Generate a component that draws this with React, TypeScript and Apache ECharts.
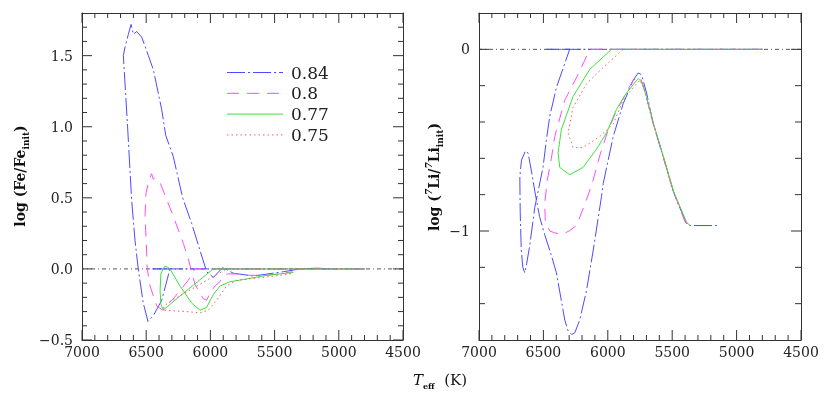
import React, { useEffect, useRef } from 'react';
import * as echarts from 'echarts';

const MASSES = ['0.84', '0.8', '0.77', '0.75'];
const COLORS = ['#4b4bff', '#ff4bff', '#3ee03e', '#ff5a5a'];
const DASHES: any[] = [[18, 3, 2, 3], [12, 8], 'solid', [1.5, 3]];

// log(Fe/Fe_init) vs Teff
const FE_084 = [[4800, 0], [6450, 0], [6315, 0], [6379, -0.22], [6445, -0.33], [6486, -0.37], [6523, -0.24], [6562, 0], [6587, 0.2], [6613, 0.48], [6645, 1.0], [6678, 1.5], [6665, 1.56], [6639, 1.65], [6618, 1.72], [6600, 1.65], [6574, 1.67], [6535, 1.63], [6483, 1.5], [6444, 1.4], [6379, 1.12], [6348, 0.94], [6289, 0.79], [6216, 0.5], [6146, 0.32], [6081, 0.13], [6029, -0.02], [5977, -0.06], [5904, 0.01], [5822, -0.03], [5666, -0.05], [5432, -0.02], [5302, 0], [5172, 0.005], [5042, 0]];
const FE_080 = [[4800, 0], [6120, 0], [6172, -0.08], [6289, -0.21], [6372, -0.29], [6418, -0.26], [6470, -0.12], [6492, 0], [6500, 0.2], [6509, 0.37], [6502, 0.53], [6480, 0.62], [6458, 0.67], [6445, 0.63], [6432, 0.64], [6410, 0.62], [6393, 0.61], [6367, 0.55], [6289, 0.37], [6211, 0.18], [6172, 0.07], [6120, -0.11], [6081, -0.17], [6055, -0.21], [6029, -0.22], [6003, -0.17], [5964, -0.12], [5925, -0.09], [5899, -0.05], [5870, -0.035], [5795, -0.035], [5700, -0.045], [5560, -0.045], [5430, -0.03], [5360, -0.02]];
const FE_077 = [[4800, 0], [5978, 0], [6100, -0.09], [6250, -0.2], [6367, -0.29], [6385, -0.25], [6392, -0.15], [6385, -0.03], [6354, 0.02], [6330, 0.01], [6315, 0], [6237, -0.12], [6146, -0.24], [6081, -0.29], [6029, -0.27], [5977, -0.18], [5925, -0.12], [5847, -0.09], [5744, -0.075], [5562, -0.045], [5354, -0.025]];
const FE_075 = [[4800, 0], [5874, 0], [6315, -0.23], [6360, -0.26], [6367, -0.29], [6289, -0.295], [6185, -0.3], [6081, -0.31], [6016, -0.29], [5951, -0.22], [5874, -0.12], [5795, -0.08], [5650, -0.065], [5500, -0.05], [5354, -0.03]];

// log(7Li/7Li_init) vs Teff
const LI_084 = [[4800, 0], [6477, 0], [6296, 0], [6399, -0.21], [6451, -0.37], [6477, -0.5], [6503, -0.65], [6567, -0.87], [6606, -1.08], [6630, -1.18], [6645, -1.23], [6660, -1.2], [6672, -1.1], [6680, -0.9], [6683, -0.7], [6670, -0.61], [6640, -0.56], [6619, -0.57], [6593, -0.67], [6567, -0.78], [6530, -0.92], [6490, -1.02], [6440, -1.13], [6399, -1.23], [6334, -1.49], [6308, -1.55], [6280, -1.57], [6256, -1.56], [6218, -1.49], [6166, -1.33], [6114, -1.11], [6049, -0.81], [6036, -0.74], [5958, -0.48], [5881, -0.3], [5803, -0.17], [5764, -0.13], [5738, -0.14], [5699, -0.24], [5647, -0.41], [5570, -0.59], [5492, -0.78], [5466, -0.83], [5388, -0.96], [5363, -0.97], [5143, -0.97]];
const LI_080 = [[4800, 0], [6140, 0], [6218, -0.12], [6334, -0.28], [6412, -0.48], [6438, -0.6], [6470, -0.72], [6490, -0.85], [6485, -0.95], [6450, -1.0], [6412, -1.01], [6360, -1.02], [6300, -1.0], [6243, -0.97], [6166, -0.83], [6114, -0.72], [6060, -0.58], [6000, -0.45], [5940, -0.35], [5881, -0.27], [5803, -0.17], [5751, -0.15], [5720, -0.21], [5647, -0.41], [5570, -0.59], [5492, -0.78], [5400, -0.95], [5375, -0.97]];
const LI_077 = [[4800, 0], [5971, 0], [6140, -0.11], [6270, -0.26], [6360, -0.44], [6386, -0.57], [6373, -0.65], [6296, -0.69], [6192, -0.65], [6088, -0.55], [6010, -0.46], [5932, -0.33], [5855, -0.24], [5764, -0.16], [5738, -0.18], [5699, -0.26], [5645, -0.41], [5568, -0.59], [5490, -0.78], [5390, -0.95], [5363, -0.97]];
const LI_075 = [[4800, 0], [5881, 0], [6036, -0.1], [6166, -0.19], [6270, -0.32], [6308, -0.46], [6270, -0.54], [6192, -0.54], [6062, -0.48], [5958, -0.41], [5881, -0.28], [5803, -0.21], [5751, -0.17], [5720, -0.21], [5660, -0.38], [5580, -0.57], [5500, -0.77], [5400, -0.94], [5370, -0.97]];

const REF_LINE = [[4500, 0], [7000, 0]];

// axis ranges and tick values
const X_MIN = 4500;
const X_MAX = 7000;
const FE_MIN = -0.5;
const FE_MAX = 1.8;
const LI_MIN = -1.6;
const LI_MAX = 0.2;
const X_MAJOR = [4500, 5000, 5500, 6000, 6500, 7000];
const X_MINOR = [4600, 4700, 4800, 4900, 5100, 5200, 5300, 5400, 5600, 5700, 5800, 5900, 6100, 6200, 6300, 6400, 6600, 6700, 6800, 6900];
const FE_MAJOR = [-0.5, 0, 0.5, 1, 1.5];
const FE_MINOR = [-0.4, -0.3, -0.2, -0.1, 0.1, 0.2, 0.3, 0.4, 0.6, 0.7, 0.8, 0.9, 1.1, 1.2, 1.3, 1.4, 1.6, 1.7];
const LI_MAJOR = [-1, 0];
const LI_MINOR = [-1.4, -1.2, -0.8, -0.6, -0.4, -0.2];

const FE_SERIES = [FE_084, FE_080, FE_077, FE_075];
const LI_SERIES = [LI_084, LI_080, LI_077, LI_075];

const SERIF = 'DejaVu Serif';
const AXIS_COLOR = '#333';
const GRID_W = [321, 322];
const GRID_H = 327;

function fmtNum(v: number, digits: number) {
  const s = Math.abs(v).toFixed(digits);
  return v < 0 ? '\u2212' + s : s;
}

// tick marks as short segments (in data units), separated by gaps
function xTickData(values: number[], lenPx: number, yMin: number, yMax: number) {
  const d = (lenPx / GRID_H) * (yMax - yMin);
  const out: any[] = [];
  values.forEach((v) => {
    out.push([v, yMin], [v, yMin + d], ['-', '-'], [v, yMax], [v, yMax - d], ['-', '-']);
  });
  return out;
}
function yTickData(values: number[], lenPx: number, gridW: number) {
  const d = (lenPx / gridW) * (X_MAX - X_MIN);
  const out: any[] = [];
  values.forEach((v) => {
    out.push([X_MAX, v], [X_MAX - d, v], ['-', '-'], [X_MIN, v], [X_MIN + d, v], ['-', '-']);
  });
  return out;
}

function tickSeries(xAxisIndex: number, yAxisIndex: number, data: any[]) {
  return {
    type: 'line',
    xAxisIndex,
    yAxisIndex,
    data,
    symbol: 'none',
    silent: true,
    clip: false,
    connectNulls: false,
    z: 5,
    lineStyle: { color: AXIS_COLOR, width: 1, type: 'solid' },
  };
}

export default function App() {
  const ref = useRef<HTMLDivElement>(null);
  useEffect(() => {
    if (!ref.current) return;
    const chart = echarts.init(ref.current, undefined, { renderer: 'svg' });

    const xa = (grid: number, pos: 'top' | 'bottom') => ({
      gridIndex: grid,
      type: 'value',
      min: X_MIN,
      max: X_MAX,
      interval: 500,
      inverse: true,
      position: pos,
      axisLine: { show: true, onZero: false, lineStyle: { color: AXIS_COLOR, width: 1 } },
      axisTick: { show: false },
      minorTick: { show: false },
      axisLabel: {
        show: pos === 'bottom',
        formatter: (v: number) => String(Math.round(v)),
        margin: 5,
        fontFamily: SERIF,
        fontSize: 14,
        color: '#222',
      },
      splitLine: { show: false },
      minorSplitLine: { show: false },
    });

    const ya = (grid: number, pos: 'left' | 'right', min: number, max: number, labels: number[] | null, digits: number) => ({
      gridIndex: grid,
      type: 'value',
      min,
      max,
      position: pos,
      axisLine: { show: true, onZero: false, lineStyle: { color: AXIS_COLOR, width: 1 } },
      axisTick: { show: false },
      axisLabel: labels
        ? {
            show: true,
            customValues: labels,
            formatter: (v: number) => fmtNum(v, digits),
            margin: 9,
            fontFamily: SERIF,
            fontSize: 14,
            color: '#222',
          }
        : { show: false },
      splitLine: { show: false },
    });

    const series: any[] = [];
    // tick marks on all four sides of both panels
    series.push(tickSeries(0, 0, xTickData(X_MAJOR, 10, FE_MIN, FE_MAX)));
    series.push(tickSeries(0, 0, xTickData(X_MINOR, 5, FE_MIN, FE_MAX)));
    series.push(tickSeries(0, 0, yTickData(FE_MAJOR, 10, GRID_W[0])));
    series.push(tickSeries(0, 0, yTickData(FE_MINOR, 5, GRID_W[0])));
    series.push(tickSeries(2, 2, xTickData(X_MAJOR, 10, LI_MIN, LI_MAX)));
    series.push(tickSeries(2, 2, xTickData(X_MINOR, 5, LI_MIN, LI_MAX)));
    series.push(tickSeries(2, 2, yTickData(LI_MAJOR, 10, GRID_W[1])));
    series.push(tickSeries(2, 2, yTickData(LI_MINOR, 6, GRID_W[1])));

    series.push({
      type: 'line', xAxisIndex: 0, yAxisIndex: 0, data: REF_LINE, symbol: 'none', silent: true, z: 1,
      lineStyle: { color: '#555', width: 1, type: [4, 3, 1, 3] },
    });
    series.push({
      type: 'line', xAxisIndex: 2, yAxisIndex: 2, data: REF_LINE, symbol: 'none', silent: true, z: 1,
      lineStyle: { color: '#555', width: 1, type: [4, 3, 1, 3] },
    });
    MASSES.forEach((m, i) => {
      series.push({
        name: m, type: 'line', xAxisIndex: 0, yAxisIndex: 0, data: FE_SERIES[i], symbol: 'none', z: 3,
        lineStyle: { color: COLORS[i], width: 1, type: DASHES[i] }, itemStyle: { color: COLORS[i] },
      });
      series.push({
        name: m, type: 'line', xAxisIndex: 2, yAxisIndex: 2, data: LI_SERIES[i], symbol: 'none', z: 3,
        lineStyle: { color: COLORS[i], width: 1, type: DASHES[i] }, itemStyle: { color: COLORS[i] },
      });
    });

    const legendItems: any[] = [];
    MASSES.forEach((m, i) => {
      const y = 72.5 + i * 20.8;
      legendItems.push({
        type: 'line',
        shape: { x1: 227, y1: y, x2: 283, y2: y },
        style: { stroke: COLORS[i], lineWidth: 1, lineDash: DASHES[i] === 'solid' ? null : DASHES[i] },
      });
      legendItems.push({
        type: 'text',
        x: 291,
        y,
        style: { text: m, fontFamily: SERIF, fontSize: 17, fill: '#222', align: 'left', verticalAlign: 'middle' },
      });
    });

    chart.setOption({
      animation: false,
      grid: [
        { left: 82, top: 13, width: GRID_W[0], height: GRID_H },
        { left: 479, top: 13, width: GRID_W[1], height: GRID_H },
      ],
      xAxis: [xa(0, 'bottom'), xa(0, 'top'), xa(1, 'bottom'), xa(1, 'top')],
      yAxis: [
        ya(0, 'left', FE_MIN, FE_MAX, FE_MAJOR, 1),
        ya(0, 'right', FE_MIN, FE_MAX, null, 1),
        ya(1, 'left', LI_MIN, LI_MAX, LI_MAJOR, 0),
        ya(1, 'right', LI_MIN, LI_MAX, null, 0),
      ],
      graphic: [
        ...legendItems,
        {
          type: 'text',
          x: 20,
          y: 176,
          rotation: Math.PI / 2,
          style: {
            text: '{a|log (Fe/Fe}{s|init}{a|)}',
            align: 'center',
            verticalAlign: 'middle',
            fill: '#111',
            rich: {
              a: { fontFamily: SERIF, fontWeight: 'bold', fontSize: 14, lineHeight: 20, fill: '#111' },
              s: { fontFamily: SERIF, fontWeight: 'bold', fontSize: 9, lineHeight: 9, verticalAlign: 'bottom', fill: '#111' },
            },
          },
        },
        {
          type: 'text',
          x: 434,
          y: 177,
          rotation: Math.PI / 2,
          style: {
            text: '{a|log (}{p|7}{a|Li/}{p|7}{a|Li}{s|init}{a|)}',
            align: 'center',
            verticalAlign: 'middle',
            fill: '#111',
            rich: {
              a: { fontFamily: SERIF, fontWeight: 'bold', fontSize: 14, lineHeight: 20, fill: '#111' },
              p: { fontFamily: SERIF, fontWeight: 'bold', fontStyle: 'italic', fontSize: 9, lineHeight: 9, verticalAlign: 'top', fill: '#111' },
              s: { fontFamily: SERIF, fontWeight: 'bold', fontSize: 9, lineHeight: 9, verticalAlign: 'bottom', fill: '#111' },
            },
          },
        },
        {
          type: 'text',
          x: 413,
          y: 380,
          style: {
            text: '{t|T}{s|eff}{k|  (K)}',
            align: 'left',
            verticalAlign: 'middle',
            fill: '#111',
            rich: {
              t: { fontFamily: SERIF, fontStyle: 'italic', fontSize: 15, lineHeight: 20, fill: '#111' },
              s: { fontFamily: SERIF, fontWeight: 'bold', fontSize: 8, lineHeight: 8, verticalAlign: 'bottom', fill: '#111' },
              k: { fontFamily: SERIF, fontSize: 15, lineHeight: 20, fill: '#111' },
            },
          },
        },
      ],
      series,
    });

    return () => chart.dispose();
  }, []);

  return <div ref={ref} style={{ position: 'fixed', left: 0, top: 0, width: 830, height: 396 }} />;
}
